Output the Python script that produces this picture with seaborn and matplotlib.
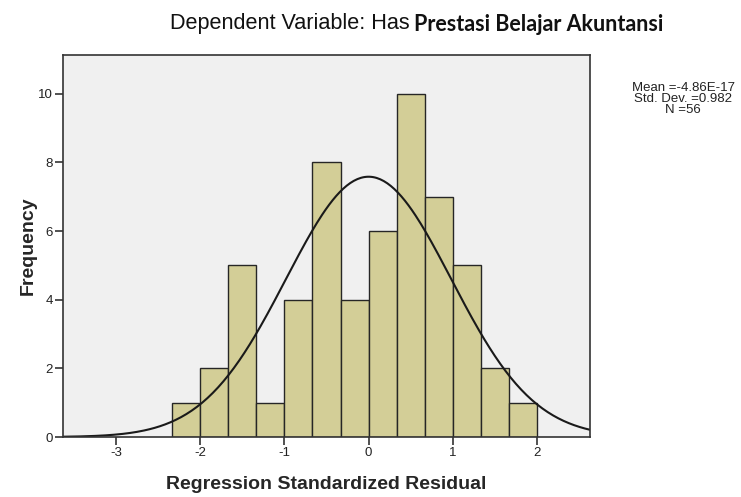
import numpy as np
import pandas as pd
import seaborn as sns
import matplotlib
matplotlib.use('Agg')
import matplotlib.pyplot as plt

# histogram of regression standardized residuals (SPSS style)
bin_start = -7 / 3
bin_width = 1 / 3
counts = [1, 2, 5, 1, 4, 8, 4, 6, 10, 7, 5, 2, 1]
mean_val = -4.86e-17
std_val = 0.982
n_obs = 56
xticks = [-3, -2, -1, 0, 1, 2]
yticks = [0, 2, 4, 6, 8, 10]

edges = bin_start + bin_width * np.arange(len(counts) + 1)
centers = (edges[:-1] + edges[1:]) / 2
df = pd.DataFrame({'resid': centers, 'freq': counts})

sns.set_style('ticks')
plt.rcParams['font.family'] = ['Liberation Sans', 'DejaVu Sans']

fig = plt.figure(figsize=(7.41, 4.97), dpi=100)
ax = fig.add_axes([63 / 741, 1 - 437 / 497, (590 - 63) / 741, (437 - 55) / 497])
ax.set_facecolor('#F0F0F0')

sns.histplot(data=df, x='resid', weights='freq', binwidth=bin_width,
             binrange=(edges[0], edges[-1]), stat='count',
             color='#D3CE97', alpha=1, edgecolor='#262626', linewidth=1.0, ax=ax)

# normal curve scaled to counts
xs = np.linspace(-3.63, 2.63, 300)
ys = n_obs * bin_width * np.exp(-0.5 * ((xs - mean_val) / std_val) ** 2) / (std_val * np.sqrt(2 * np.pi))
sns.lineplot(x=xs, y=ys, color='#1a1a1a', linewidth=1.5, ax=ax)

ax.set_xlim(-3.63, 2.63)
ax.set_ylim(0, 11.13)
ax.set_xticks(xticks)
ax.set_yticks(yticks)
ax.set_xticklabels([str(v) for v in xticks])
ax.set_yticklabels([str(v) for v in yticks])
ax.tick_params(axis='both', direction='out', length=5.5, width=1.2, colors='#333333',
               labelsize=9.5, labelcolor='#222222', pad=2)
for sp in ax.spines.values():
    sp.set_visible(True)
    sp.set_color('#333333')
    sp.set_linewidth(1.2)

ax.set_xlabel('Regression Standardized Residual', fontsize=14, fontweight='bold', labelpad=12)
ax.set_ylabel('Frequency', fontsize=14, fontweight='bold', labelpad=1)

fig.text(170 / 741, 1 - 29 / 497, 'Dependent Variable: Has', fontsize=15.6,
         ha='left', va='baseline', color='#111111')
fig.text(414 / 741, 1 - 31 / 497, 'Prestasi Belajar Akuntansi', fontsize=15.5,
         fontweight='bold', family=['Lato', 'DejaVu Sans'],
         ha='left', va='baseline', color='#111111')

stats_lines = ['Mean =-4.86E-17', 'Std. Dev. =0.982', 'N =56']
for i, line in enumerate(stats_lines):
    fig.text(683 / 741, 1 - (88 + 11 * i) / 497, line, fontsize=9.5,
             ha='center', va='center', color='#222222')

fig.savefig('out.png', dpi=100)
